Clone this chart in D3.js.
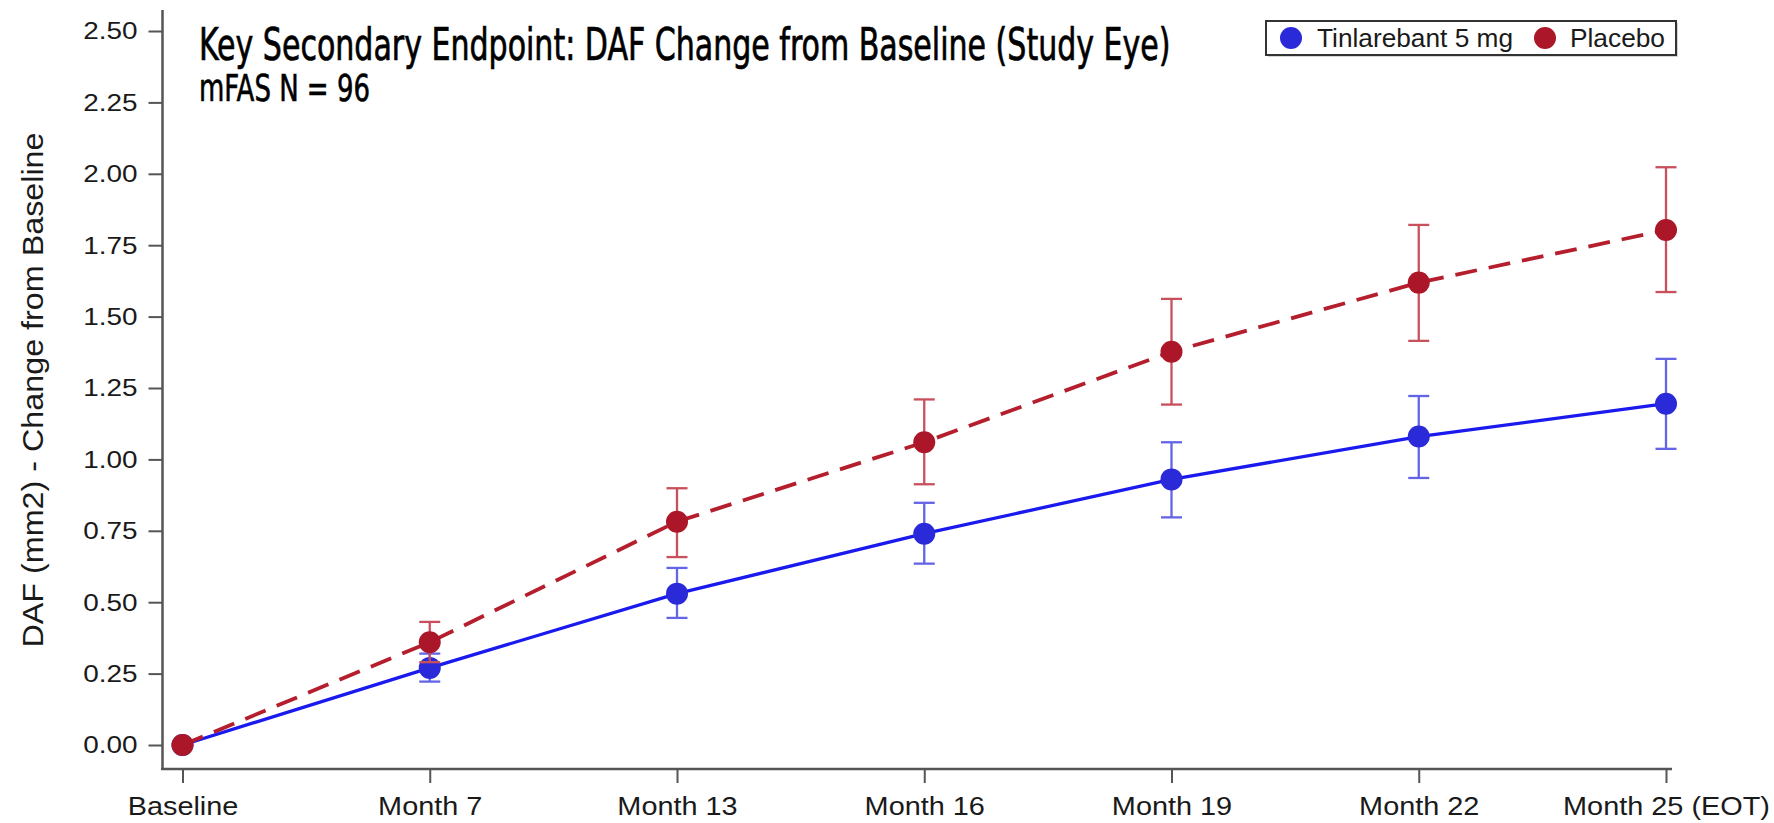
<!DOCTYPE html>
<html><head><meta charset="utf-8">
<script src="https://cdn.jsdelivr.net/npm/d3@7"></script>
<style>body{margin:0;background:#fff}svg{display:block}</style>
</head><body>
<script>
const categories = ["Baseline","Month 7","Month 13","Month 16","Month 19","Month 22","Month 25 (EOT)"];
const yTicks = [0,0.25,0.5,0.75,1,1.25,1.5,1.75,2,2.25,2.5];
const tinMean = [0, 0.27, 0.53, 0.74, 0.93, 1.08, 1.195];
const tinLow  = [0, 0.222, 0.445, 0.635, 0.797, 0.935, 1.037];
const tinHigh = [0, 0.32, 0.62, 0.848, 1.06, 1.222, 1.352];
const plaMean = [0, 0.36, 0.782, 1.06, 1.377, 1.619, 1.803];
const plaLow  = [0, 0.29, 0.658, 0.913, 1.192, 1.415, 1.586];
const plaHigh = [0, 0.431, 0.899, 1.21, 1.562, 1.821, 2.023];
const seriesNames = ["Tinlarebant 5 mg","Placebo"];
const titleText = "Key Secondary Endpoint: DAF Change from Baseline (Study Eye)";
const subtitleText = "mFAS N = 96";
const yTitle = "DAF (mm2) - Change from Baseline";

const W=1774,H=823;
const svg=d3.select("body").append("svg").attr("width",W).attr("height",H);
const x=d3.scalePoint().domain(categories).range([182.5,1666]);
const y=d3.scaleLinear().domain([0,2.5]).range([745,31]);
const axisColor="#555";
const txt="#1a1a1a";
const stretch=(sel,f)=>sel.each(function(){const l=this.getComputedTextLength();d3.select(this).attr("textLength",l*f).attr("lengthAdjust","spacingAndGlyphs");});
const fitTo=(sel,x0,y0,w)=>sel.each(function(){const l=this.getComputedTextLength();d3.select(this).attr("x",0).attr("y",0).attr("transform",`translate(${x0},${y0}) scale(${w/l},1)`);});

// axes lines
svg.append("line").attr("x1",162.5).attr("x2",162.5).attr("y1",10).attr("y2",770).attr("stroke",axisColor).attr("stroke-width",2.5);
svg.append("line").attr("x1",161).attr("x2",1672).attr("y1",769).attr("y2",769).attr("stroke",axisColor).attr("stroke-width",2.5);

const ya=svg.append("g").attr("transform","translate(162.5,0)")
  .call(d3.axisLeft(y).tickValues(yTicks).tickFormat(d3.format(".2f")).tickSize(14).tickPadding(11));
ya.select(".domain").remove();
ya.selectAll(".tick line").attr("stroke",axisColor).attr("stroke-width",2);
ya.selectAll(".tick text").attr("font-family","Liberation Sans, Arial, sans-serif").attr("font-size",24.5).attr("fill",txt).call(stretch,1.14);

const xa=svg.append("g").attr("transform","translate(0,769)")
  .call(d3.axisBottom(x).tickSize(14).tickPadding(14));
xa.select(".domain").remove();
xa.selectAll(".tick line").attr("stroke",axisColor).attr("stroke-width",2);
xa.selectAll(".tick text").attr("font-family","Liberation Sans, Arial, sans-serif").attr("font-size",26).attr("fill",txt).call(stretch,1.11);

// y title
svg.append("text").attr("transform","translate(43,390) rotate(-90)").attr("text-anchor","middle")
  .attr("font-family","Liberation Sans, Arial, sans-serif").attr("font-size",30).attr("fill",txt)
  .attr("textLength",515).attr("lengthAdjust","spacingAndGlyphs").text(yTitle);

// titles
const tf="Liberation Sans Narrow, Arial Narrow, DejaVu Sans Condensed, sans-serif";
svg.append("text").attr("font-family",tf).attr("font-stretch","condensed").attr("font-size",44)
  .attr("fill","#000").attr("stroke","#000").attr("stroke-width",0.7).text(titleText).call(fitTo,199,60,972);
svg.append("text").attr("font-family",tf).attr("font-stretch","condensed").attr("font-size",38)
  .attr("fill","#000").attr("stroke","#000").attr("stroke-width",0.6).text(subtitleText).call(fitTo,199,101,171);

const series=[
  {name:seriesNames[0],mean:tinMean,low:tinLow,high:tinHigh,line:"#1a1aee",marker:"#2a2ad8",err:"#6464e6",dash:null,w:3.3},
  {name:seriesNames[1],mean:plaMean,low:plaLow,high:plaHigh,line:"#b41e2d",marker:"#ab1628",err:"#c8505c",dash:"22,12",w:3.8}
];
const lineGen=d3.line().x((d,i)=>x(categories[i])).y(d=>y(d));
series.forEach(s=>{
  const g=svg.append("g");
  const idx=categories.map((c,i)=>i).filter(i=>s.high[i]>s.low[i]);
  g.selectAll(".ev").data(idx).join("line").attr("x1",i=>x(categories[i])).attr("x2",i=>x(categories[i]))
    .attr("y1",i=>y(s.low[i])).attr("y2",i=>y(s.high[i])).attr("stroke",s.err).attr("stroke-width",2.3);
  ["low","high"].forEach(k=>{
    g.selectAll(".cap"+k).data(idx).join("line").attr("x1",i=>x(categories[i])-10.5).attr("x2",i=>x(categories[i])+10.5)
      .attr("y1",i=>y(s[k][i])).attr("y2",i=>y(s[k][i])).attr("stroke",s.err).attr("stroke-width",2.3);
  });
  g.append("path").datum(s.mean).attr("d",lineGen).attr("fill","none").attr("stroke",s.line).attr("stroke-width",s.w)
    .attr("stroke-dasharray",s.dash);
  g.selectAll("circle").data(s.mean).join("circle").attr("cx",(d,i)=>x(categories[i])).attr("cy",d=>y(d)).attr("r",11).attr("fill",s.marker);
});

// legend
const lg=svg.append("g");
lg.append("rect").attr("x",1268).attr("y",23).attr("width",410).attr("height",34).attr("fill","#bbb").attr("opacity",0.6);
lg.append("rect").attr("x",1266).attr("y",21).attr("width",410).attr("height",34).attr("fill","#fff").attr("stroke","#333").attr("stroke-width",2);
const legX=[1291,1545], legT=[1317,1570], legL=[196,95];
series.forEach((s,i)=>{
  lg.append("circle").attr("cx",legX[i]).attr("cy",38).attr("r",11).attr("fill",s.marker);
  lg.append("text").attr("x",legT[i]).attr("y",47).attr("font-family","Liberation Sans, Arial, sans-serif").attr("font-size",25)
    .attr("fill",txt).attr("textLength",legL[i]).attr("lengthAdjust","spacingAndGlyphs").text(s.name);
});
</script>
</body></html>
